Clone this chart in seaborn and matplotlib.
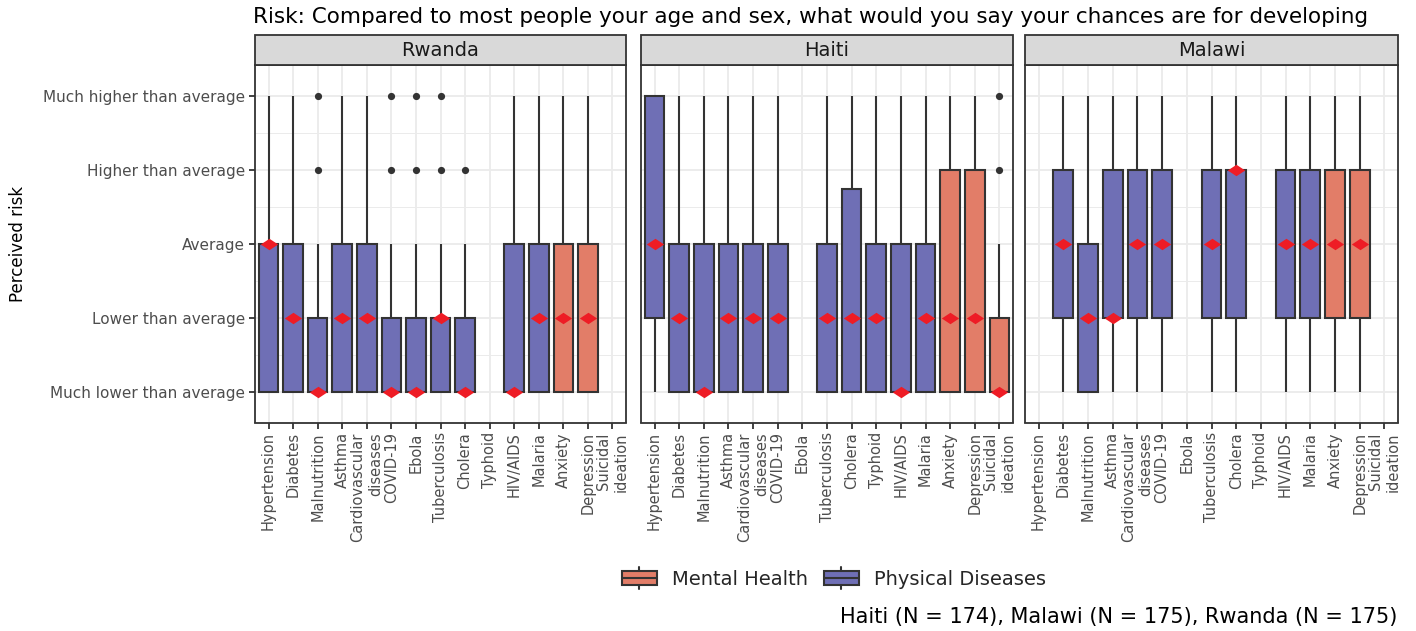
import numpy as np
import pandas as pd
import matplotlib
matplotlib.use("Agg")
import matplotlib.pyplot as plt
import seaborn as sns
from matplotlib import font_manager
from matplotlib.legend_handler import HandlerBase
from matplotlib.patches import Rectangle, Patch
from matplotlib.lines import Line2D

nan = np.nan

# ---- data -----------------------------------------------------------------
diseases = ["Hypertension", "Diabetes", "Malnutrition", "Asthma",
            "Cardiovascular\ndiseases", "COVID-19", "Ebola", "Tuberculosis",
            "Cholera", "Typhoid", "HIV/AIDS", "Malaria", "Anxiety",
            "Depression", "Suicidal\nideation"]
groups = ["Physical Diseases"] * 12 + ["Mental Health"] * 3
countries = ["Rwanda", "Haiti", "Malawi"]
risk_levels = ["Much lower than average", "Lower than average", "Average",
               "Higher than average", "Much higher than average"]

# five-number summaries per country (1 = much lower ... 5 = much higher)
rwanda_low = [1, 1, 1, 1, 1, 1, 1, 1, 1, nan, 1, 1, 1, 1, nan]
rwanda_q1 = [1, 1, 1, 1, 1, 1, 1, 1, 1, nan, 1, 1, 1, 1, nan]
rwanda_median = [3, 2, 1, 2, 2, 1, 1, 2, 1, nan, 1, 2, 2, 2, nan]
rwanda_q3 = [3, 3, 2, 3, 3, 2, 2, 2, 2, nan, 3, 3, 3, 3, nan]
rwanda_high = [5, 5, 3, 5, 5, 3, 3, 3, 3, nan, 5, 5, 5, 5, nan]
rwanda_outliers = {"Malnutrition": [4, 5], "COVID-19": [4, 5], "Ebola": [4, 5],
                   "Tuberculosis": [4, 5], "Cholera": [4]}

haiti_low = [1, 1, 1, 1, 1, 1, nan, 1, 1, 1, 1, 1, 1, 1, 1]
haiti_q1 = [2, 1, 1, 1, 1, 1, nan, 1, 1, 1, 1, 1, 1, 1, 1]
haiti_median = [3, 2, 1, 2, 2, 2, nan, 2, 2, 2, 1, 2, 2, 2, 1]
haiti_q3 = [5, 3, 3, 3, 3, 3, nan, 3, 3.75, 3, 3, 3, 4, 4, 2]
haiti_high = [5, 5, 5, 5, 5, 5, nan, 5, 5, 5, 5, 5, 5, 5, 3]
haiti_outliers = {"Suicidal\nideation": [4, 5]}

malawi_low = [nan, 1, 1, 1, 1, 1, nan, 1, 1, nan, 1, 1, 1, 1, nan]
malawi_q1 = [nan, 2, 1, 2, 2, 2, nan, 2, 2, nan, 2, 2, 2, 2, nan]
malawi_median = [nan, 3, 2, 2, 3, 3, nan, 3, 4, nan, 3, 3, 3, 3, nan]
malawi_q3 = [nan, 4, 3, 4, 4, 4, nan, 4, 4, nan, 4, 4, 4, 4, nan]
malawi_high = [nan, 5, 5, 5, 5, 5, nan, 5, 5, nan, 5, 5, 5, 5, nan]
malawi_outliers = {}

summaries = {
    "Rwanda": (rwanda_low, rwanda_q1, rwanda_median, rwanda_q3, rwanda_high, rwanda_outliers),
    "Haiti": (haiti_low, haiti_q1, haiti_median, haiti_q3, haiti_high, haiti_outliers),
    "Malawi": (malawi_low, malawi_q1, malawi_median, malawi_q3, malawi_high, malawi_outliers),
}

title = ("Risk: Compared to most people your age and sex, what would you say "
         "your chances are for developing")
caption = "Haiti (N = 174), Malawi (N = 175), Rwanda (N = 175)"

# ---- tidy tables ----------------------------------------------------------
box_rows, med_rows, out_rows = [], [], []
for country, (lo, q1, md, q3, hi, outl) in summaries.items():
    for i, dis in enumerate(diseases):
        if np.isnan(md[i]):
            continue
        for v in (lo[i], q1[i], md[i], q3[i], hi[i]):
            box_rows.append({"country": country, "disease": dis,
                             "group": groups[i], "value": v})
        med_rows.append({"country": country, "disease": dis, "median": md[i]})
        for v in outl.get(dis, []):
            out_rows.append({"country": country, "disease": dis, "value": v})
box_df = pd.DataFrame(box_rows)
med_df = pd.DataFrame(med_rows)
out_df = pd.DataFrame(out_rows)

# ---- style ----------------------------------------------------------------
sns.set_theme(style="white")
plt.rcParams["font.family"] = ["DejaVu Sans"]
installed = {f.name for f in font_manager.fontManager.ttflist}
narrow = "Liberation Sans Narrow" if "Liberation Sans Narrow" in installed else "DejaVu Sans"

PURPLE = "#6F6FB5"
ORANGE = "#E27D68"
RED = "#EE1C25"
DARK = "#333333"
TEXT = "#4D4D4D"
palette = {"Mental Health": ORANGE, "Physical Diseases": PURPLE}
DIAMOND = [(-1, 0), (0, 0.66), (1, 0), (0, -0.66), (-1, 0)]

W, H = 1416, 631
fig = plt.figure(figsize=(W / 100, H / 100), dpi=100)

panel_left = [255, 641, 1025]
panel_width = [371, 372, 373]
top_px, bottom_px, strip_px = 65, 422.5, 30

for k, country in enumerate(countries):
    ax = fig.add_axes([panel_left[k] / W, 1 - bottom_px / H,
                       panel_width[k] / W, (bottom_px - top_px) / H])
    ax.set_axisbelow(True)
    sub = box_df[box_df.country == country]
    sns.boxplot(data=sub, x="disease", y="value", hue="group", order=diseases,
                hue_order=["Mental Health", "Physical Diseases"], palette=palette,
                saturation=1, whis=(0, 100), showcaps=False, showfliers=False,
                width=0.8, linecolor=DARK, linewidth=1.5,
                medianprops={"linewidth": 0}, legend=False, ax=ax)
    osub = out_df[out_df.country == country] if len(out_df) else out_df
    if len(osub):
        sns.stripplot(data=osub, x="disease", y="value", order=diseases,
                      jitter=False, color=DARK, size=5.2, linewidth=0, ax=ax,
                      zorder=4)
    msub = med_df[med_df.country == country]
    sns.stripplot(data=msub, x="disease", y="median", order=diseases,
                  jitter=False, color=RED, marker=DIAMOND, size=12.5,
                  linewidth=0, ax=ax, zorder=5)

    ax.set_xlim(-0.55, 14.55)
    ax.set_ylim(0.595, 5.42)
    ax.set_xticks(range(len(diseases)))
    ax.set_xticklabels(diseases, rotation=90, ha="center", va="top",
                       multialignment="right", family=narrow, fontsize=10.5,
                       color=TEXT)
    ax.set_yticks([1, 2, 3, 4, 5])
    ax.set_yticks([1.5, 2.5, 3.5, 4.5], minor=True)
    if k == 0:
        ax.set_yticklabels(risk_levels, fontsize=11, color=TEXT)
        ax.tick_params(axis="y", which="major", length=4, width=1.3,
                       color=DARK, left=True, pad=3)
    else:
        ax.set_yticklabels([])
        ax.tick_params(axis="y", which="major", length=0)
    ax.tick_params(axis="y", which="minor", length=0)
    ax.tick_params(axis="x", which="major", length=4, width=1.3, color=DARK,
                   bottom=True, pad=3)
    ax.grid(True, which="major", color="#EBEBEB", linewidth=1.3)
    ax.grid(True, which="minor", axis="y", color="#EBEBEB", linewidth=0.7)
    ax.set_xlabel("")
    ax.set_ylabel("")
    for sp in ax.spines.values():
        sp.set_color(DARK)
        sp.set_linewidth(1.3)

    # facet strip
    h = strip_px / (bottom_px - top_px)
    ax.add_patch(Rectangle((0, 1), 1, h, transform=ax.transAxes,
                           clip_on=False, facecolor="#D9D9D9",
                           edgecolor=DARK, linewidth=1.3, zorder=3))
    ax.text(0.5, 1 + h / 2, country, transform=ax.transAxes, ha="center",
            va="center", fontsize=14, color="#1A1A1A")

fig.text(253 / W, 1 - 17 / H, title, ha="left", va="center", fontsize=15.5,
         color="#000000")
fig.text(18 / W, 1 - 244 / H, "Perceived risk", rotation=90, ha="center",
         va="center", family=narrow, fontsize=12, color="#000000")
fig.text(1397 / W, 1 - 617 / H, caption, ha="right", va="center",
         fontsize=15, color="#000000")


class BoxKey(HandlerBase):
    def create_artists(self, legend, orig_handle, xdescent, ydescent, width,
                       height, fontsize, trans):
        x0, y0 = -xdescent, -ydescent
        fc = orig_handle.get_facecolor()
        rect = Rectangle((x0, y0 + 0.15 * height), width, 0.7 * height,
                         facecolor=fc, edgecolor=DARK, linewidth=1.5,
                         transform=trans)
        mid = Line2D([x0, x0 + width], [y0 + height / 2] * 2, color=DARK,
                     linewidth=1.5, transform=trans)
        top = Line2D([x0 + width / 2] * 2, [y0 + 0.85 * height, y0 + height],
                     color=DARK, linewidth=1.5, transform=trans)
        bot = Line2D([x0 + width / 2] * 2, [y0, y0 + 0.15 * height],
                     color=DARK, linewidth=1.5, transform=trans)
        return [rect, mid, top, bot]


handles = [Patch(facecolor=ORANGE), Patch(facecolor=PURPLE)]
fig.legend(handles=handles, labels=["Mental Health", "Physical Diseases"],
           handler_map={Patch: BoxKey()}, loc="center",
           bbox_to_anchor=(834 / W, 1 - 578 / H), ncol=2, frameon=False,
           fontsize=14, handlelength=1.8, handleheight=1.3,
           columnspacing=0.8, handletextpad=0.8)

fig.savefig("out.png", dpi=100)
